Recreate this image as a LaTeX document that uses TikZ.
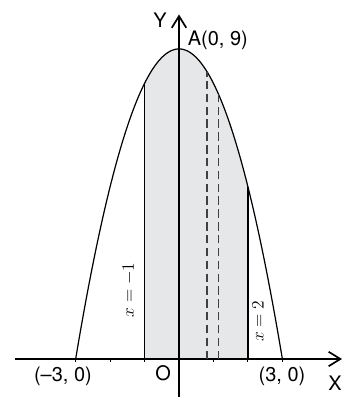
\documentclass[tikz,border=0pt]{standalone}
\usepackage{fontspec}
\setmainfont{TeX Gyre Heros}
\usepackage{amsmath}
\usetikzlibrary{arrows.meta}
\definecolor{areagray}{HTML}{E6E7E8}
\definecolor{stripgray}{HTML}{404040}
\tikzset{
  plotaxis/.style={line width=1pt, -{Straight Barb[length=3.4mm, width=4.2mm, line width=1.4pt]}},
  plotcurve/.style={line width=1pt},
  stripline/.style={draw=stripgray, line width=1.1pt, dash pattern=on 7pt off 3.6pt},
  plotlabel/.style={font=\fontsize{16.5}{18}\selectfont, inner sep=0pt},
  linelabel/.style={font=\fontsize{15}{17}\selectfont, rotate=90, inner sep=0pt}
}

\begin{document}
\begin{tikzpicture}
  \useasboundingbox (-5.196,-1.103) rectangle (4.906,10.42);

  % area between x = -1 and x = 2
  \fill[areagray] (-1,0) -- plot[domain=-1:2, samples=80] (\x,{9-\x*\x}) -- (2,0) -- cycle;

  % axes
  \draw[plotaxis] (-4.76,0) -- (4.73,0);
  \draw[plotaxis] (0,-1.103) -- (0,10);
  \foreach \t in {-3,-2,-1,1,2,3}
    \draw[line width=0.8pt] (\t,0.03) -- (\t,-0.08);

  % curve and bounds
  \draw[plotcurve] plot[domain=-3:3, samples=120] (\x,{9-\x*\x});
  \draw[plotcurve] (-1,0) -- (-1,8);
  \draw[plotcurve] (2,0) -- (2,5);
  \foreach \s in {0.81,1.14}
    \draw[stripline] (\s,0) -- (\s,{9-\s*\s});

  % labels
  \node[plotlabel] (ylab) at (-0.55,9.84) {Y};
  \node[plotlabel, anchor=west] (apex) at (0.25,9.26) {A(0, 9)};
  \node[plotlabel] (left) at (-3.37,-0.49) {(\textendash3, 0)};
  \node[plotlabel] (orig) at (-0.46,-0.41) {O};
  \node[plotlabel] (right) at (2.99,-0.49) {(3, 0)};
  \node[plotlabel] (xlab) at (4.53,-0.70) {X};
  \node[linelabel] (leftb) at (-1.45,2.0) {$x=-1$};
  \node[linelabel] (rightb) at (2.29,1.1) {$x=2$};
\end{tikzpicture}
\end{document}
